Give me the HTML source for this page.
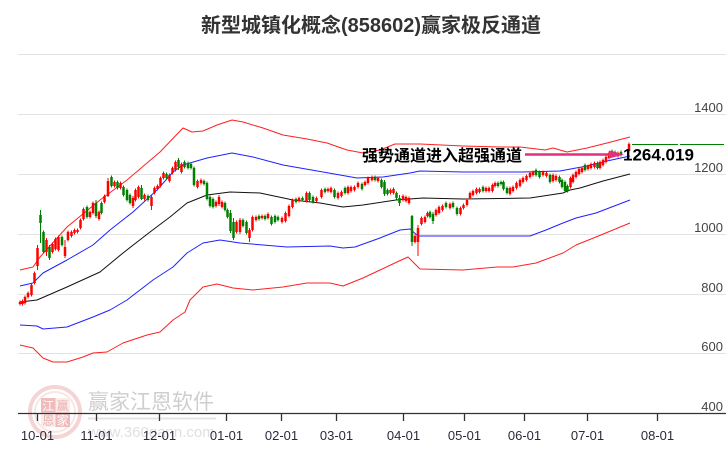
<!DOCTYPE html>
<html><head><meta charset="utf-8"><style>
html,body{margin:0;padding:0;background:#fff;}
svg{display:block;}
text{font-family:"Liberation Sans","Noto Sans CJK SC",sans-serif;}
</style></head><body>
<svg width="726" height="450" viewBox="0 0 726 450" xmlns="http://www.w3.org/2000/svg">
<rect width="726" height="450" fill="#fff"/>
<text x="371" y="32" text-anchor="middle" font-size="20" font-weight="bold" fill="#333">新型城镇化概念(858602)赢家极反通道</text>
<g stroke="#e3e3e3" stroke-width="1">
<line x1="18" y1="54.5" x2="726" y2="54.5"/>
<line x1="18" y1="114.5" x2="726" y2="114.5"/>
<line x1="18" y1="174.5" x2="726" y2="174.5"/>
<line x1="18" y1="234.5" x2="726" y2="234.5"/>
<line x1="18" y1="294.5" x2="726" y2="294.5"/>
<line x1="18" y1="353.5" x2="726" y2="353.5"/>
</g>
<g font-size="13" fill="#444" text-anchor="end">
<text x="723" y="112">1400</text>
<text x="723" y="172">1200</text>
<text x="723" y="232">1000</text>
<text x="723" y="292">800</text>
<text x="723" y="351">600</text>
<text x="723" y="411">400</text>
</g>
<g opacity="0.9">
<circle cx="55" cy="412" r="25" fill="none" stroke="#f3d0d0" stroke-width="4"/>
<circle cx="55" cy="412" r="20" fill="none" stroke="#f8e4e4" stroke-width="2"/>
<rect x="41" y="398" width="14.5" height="14.5" fill="#eeb4b4"/>
<rect x="55.5" y="398" width="14.5" height="14.5" fill="#fbeaea"/>
<rect x="41" y="412.5" width="14.5" height="14.5" fill="#fbeaea"/>
<rect x="55.5" y="412.5" width="14.5" height="14.5" fill="#eeb4b4"/>
<g font-size="12" text-anchor="middle">
<text x="48.2" y="410" fill="#fff">江</text>
<text x="62.8" y="410" fill="#e8a8a8">赢</text>
<text x="48.2" y="424.5" fill="#e8a8a8">恩</text>
<text x="62.8" y="424.5" fill="#fff">家</text>
</g>
<text x="88" y="409" font-size="21" fill="#c9c9c9">赢家江恩软件</text>
<line x1="88" y1="418.5" x2="216" y2="418.5" stroke="#e2e2e2" stroke-width="2"/>
<text x="88" y="437" font-size="15" fill="#dcdcdc">www.360gann.com</text>
</g>
<g fill="none" stroke-width="1" stroke-linejoin="round">
<polyline stroke="#ff2020" points="20,270 33,267 40,257 67,227 100,200 127,180 147,163 160,152 183,128 192,132 203,131 217,125 232,120 243,122 263,128 283,135 307,139 327,143 347,150 363,153 380,150 395,144 420,144 463,146 500,147 520,147 545,150 553,148 567,152 587,148 607,143 630,137"/>
<polyline stroke="#2020ff" points="20,286 33,283 43,273 67,260 93,245 110,230 133,212 157,190 173,172 183,165 207,158 232,153 253,157 283,165 323,172 357,178 383,177 410,173 420,171 463,172 523,172 560,171 576,168 587,166 607,161 630,156"/>
<polyline stroke="#111" points="20,302 37,300 67,287 100,272 123,253 150,232 170,217 187,203 207,195 230,192 260,193 293,200 320,203 343,207 363,205 396,200 423,198 463,199 530,198 563,193 570,190 580,188 603,181 630,174"/>
<polyline stroke="#2020ff" points="20,325 37,326 43,329 67,327 93,317 110,310 127,300 153,280 173,267 187,253 203,243 220,240 240,243 287,247 330,246 343,248 355,247 380,238 400,230 410,229 418,236 447,236 530,236 546,230 563,223 576,218 596,213 630,200"/>
<polyline stroke="#ff2020" points="20,345 33,348 43,358 53,362 67,362 83,357 93,353 107,352 123,343 147,335 160,332 173,320 185,312 190,300 203,287 217,284 233,288 253,290 283,287 307,283 330,283 343,286 363,278 380,270 397,262 408,257 413,262 420,269 463,270 497,267 513,267 536,263 563,253 576,245 596,237 630,223"/>
</g>
<!-- red wicks -->
<path fill="none" stroke="#f00" stroke-width="1" d="M20 300.5V305.5M22.5 299.5V305.5M25 295.5V304.5M28 291.5V298.5M31.5 283.5V296.5M34.5 271.5V284.5M37.5 245V270M46.5 238V256M52.5 242.5V253.5M55.5 237.5V250.5M58.5 235.5V251.5M65 240V258M68 230.5V241.5M71.5 230.5V237.5M74.5 228.5V234.5M77.5 228.5V233.5M80.5 218.5V229.5M83.5 207.5V220.5M90 210.5V218.5M93 201.5V214.5M99 210.5V220.5M104.5 194.5V203.5M108 178V197M114.5 180.5V187.5M120.5 181.5V189.5M133 196V208M135.5 188.5V201.5M138.5 185.5V198.5M144.5 193.5V200.5M151.5 195V210M154.5 186.5V194.5M157.5 184.5V190.5M160.5 176.5V187.5M163.5 171.5V179.5M169.5 173.5V182.5M172.5 166.5V174.5M175.5 160.5V171.5M181.5 162.5V173.5M197.5 179.5V188.5M201 178.5V184.5M216 200.5V207.5M219 195V206M222 200.5V208.5M236.5 220.5V233.5M240 218V234M249.5 228V242M252.5 215.5V231.5M256 215.5V221.5M262 214.5V219.5M268 212.5V219.5M282 216.5V223.5M285.5 211.5V222.5M289 204.5V217.5M292.5 198.5V208.5M299 196.5V202.5M306.5 191.5V202.5M316.5 196.5V202.5M321.5 188.5V198.5M328 187.5V192.5M331 186.5V193.5M338 191.5V199.5M341.5 190.5V197.5M348 185.5V194.5M351 185.5V192.5M354.5 185.5V191.5M358 181.5V188.5M365 180.5V186.5M368 176.5V184.5M372 175.5V181.5M378 176.5V182.5M390.5 188.5V194.5M393.5 187.5V194.5M403 194.5V201.5M406 195.5V202.5M409 196.5V204.5M415 234.5V243.5M418 225V256M421.5 216.5V225.5M425 215.5V223.5M427.5 211.5V217.5M436 208.5V216.5M439 205.5V214.5M442.5 204.5V211.5M450 202.5V209.5M460.5 206.5V215.5M463.5 203.5V209.5M467 198.5V206.5M470 191.5V199.5M473 189.5V196.5M476.5 187.5V194.5M479.5 187.5V193.5M486 186.5V192.5M489 186.5V192.5M492.5 183.5V192.5M495 181.5V187.5M510 186.5V195.5M513 185.5V192.5M516.5 181.5V189.5M520 178.5V187.5M523 176.5V183.5M526.5 174.5V181.5M530 171.5V178.5M533 170.5V176.5M543 170.5V176.5M546.5 171.5V177.5M553 173.5V182.5M556 174.5V181.5M570.5 176.5V188.5M573 173.5V183.5M576 170.5V178.5M579 167.5V175.5M582 166.5V173.5M588 164.5V170.5M591 162.5V169.5M594.5 161.5V168.5M600 160.5V169.5M603 158.5V166.5M606 155.5V163.5M609 151.5V159.5M618 151.5V157.5M629 142.5V152.5"/>
<!-- red bodies -->
<path fill="#f00" d="M18.75 302h2.5V304h-2.5zM21.25 301h2.5V304h-2.5zM23.75 297h2.5V303h-2.5zM26.75 293h2.5V297h-2.5zM30.25 285h2.5V295h-2.5zM33.25 273h2.5V283h-2.5zM36.25 248h2.5V266h-2.5zM45.25 240h2.5V252h-2.5zM51.25 244h2.5V252h-2.5zM54.25 239h2.5V249h-2.5zM57.25 237h2.5V250h-2.5zM63.75 247h2.5V256h-2.5zM66.75 232h2.5V240h-2.5zM70.25 232h2.5V236h-2.5zM73.25 230h2.5V233h-2.5zM76.25 230h2.5V232h-2.5zM79.25 220h2.5V228h-2.5zM82.25 209h2.5V219h-2.5zM88.75 212h2.5V217h-2.5zM91.75 203h2.5V213h-2.5zM97.75 212h2.5V219h-2.5zM103.25 196h2.5V202h-2.5zM106.75 181h2.5V196h-2.5zM113.25 182h2.5V186h-2.5zM119.25 183h2.5V188h-2.5zM131.75 198h2.5V206h-2.5zM134.25 190h2.5V200h-2.5zM137.25 187h2.5V197h-2.5zM143.25 195h2.5V199h-2.5zM150.25 197h2.5V206h-2.5zM153.25 188h2.5V193h-2.5zM156.25 186h2.5V189h-2.5zM159.25 178h2.5V186h-2.5zM162.25 173h2.5V178h-2.5zM168.25 175h2.5V181h-2.5zM171.25 168h2.5V173h-2.5zM174.25 162h2.5V170h-2.5zM180.25 164h2.5V172h-2.5zM196.25 181h2.5V187h-2.5zM199.75 180h2.5V183h-2.5zM214.75 202h2.5V206h-2.5zM217.75 197h2.5V204h-2.5zM220.75 202h2.5V207h-2.5zM235.25 222h2.5V232h-2.5zM238.75 220h2.5V232h-2.5zM248.25 230h2.5V238h-2.5zM251.25 217h2.5V230h-2.5zM254.75 217h2.5V220h-2.5zM260.75 216h2.5V218h-2.5zM266.75 214h2.5V218h-2.5zM280.75 218h2.5V222h-2.5zM284.25 213h2.5V221h-2.5zM287.75 206h2.5V216h-2.5zM291.25 200h2.5V207h-2.5zM297.75 198h2.5V201h-2.5zM305.25 193h2.5V201h-2.5zM315.25 198h2.5V201h-2.5zM320.25 190h2.5V197h-2.5zM326.75 189h2.5V191h-2.5zM329.75 188h2.5V192h-2.5zM336.75 193h2.5V198h-2.5zM340.25 192h2.5V196h-2.5zM346.75 187h2.5V193h-2.5zM349.75 187h2.5V191h-2.5zM353.25 187h2.5V190h-2.5zM356.75 183h2.5V187h-2.5zM363.75 182h2.5V185h-2.5zM366.75 178h2.5V183h-2.5zM370.75 177h2.5V180h-2.5zM376.75 178h2.5V181h-2.5zM389.25 190h2.5V193h-2.5zM392.25 189h2.5V193h-2.5zM401.75 196h2.5V200h-2.5zM404.75 197h2.5V201h-2.5zM407.75 198h2.5V203h-2.5zM413.75 236h2.5V242h-2.5zM416.75 228h2.5V242h-2.5zM420.25 218h2.5V224h-2.5zM423.75 217h2.5V222h-2.5zM426.25 213h2.5V216h-2.5zM434.75 210h2.5V215h-2.5zM437.75 207h2.5V213h-2.5zM441.25 206h2.5V210h-2.5zM448.75 204h2.5V208h-2.5zM459.25 208h2.5V214h-2.5zM462.25 205h2.5V208h-2.5zM465.75 200h2.5V205h-2.5zM468.75 193h2.5V198h-2.5zM471.75 191h2.5V195h-2.5zM475.25 189h2.5V193h-2.5zM478.25 189h2.5V192h-2.5zM484.75 188h2.5V191h-2.5zM487.75 188h2.5V191h-2.5zM491.25 185h2.5V191h-2.5zM493.75 183h2.5V186h-2.5zM508.75 188h2.5V194h-2.5zM511.75 187h2.5V191h-2.5zM515.25 183h2.5V188h-2.5zM518.75 180h2.5V186h-2.5zM521.75 178h2.5V182h-2.5zM525.25 176h2.5V180h-2.5zM528.75 173h2.5V177h-2.5zM531.75 172h2.5V175h-2.5zM541.75 172h2.5V175h-2.5zM545.25 173h2.5V176h-2.5zM551.75 175h2.5V181h-2.5zM554.75 176h2.5V180h-2.5zM569.25 178h2.5V187h-2.5zM571.75 175h2.5V182h-2.5zM574.75 172h2.5V177h-2.5zM577.75 169h2.5V174h-2.5zM580.75 168h2.5V172h-2.5zM586.75 166h2.5V169h-2.5zM589.75 164h2.5V168h-2.5zM593.25 163h2.5V167h-2.5zM598.75 162h2.5V168h-2.5zM601.75 160h2.5V165h-2.5zM604.75 157h2.5V162h-2.5zM607.75 153h2.5V158h-2.5zM616.75 153h2.5V156h-2.5zM627.75 144h2.5V151h-2.5z"/>
<!-- green wicks -->
<path fill="none" stroke="#008000" stroke-width="1" d="M40.5 210V243M43.5 230.5V253.5M49.5 245V260M62 235.5V246.5M87 205.5V218.5M96 200V218M101.5 201.5V214.5M111.5 175.5V187.5M117.5 180.5V189.5M123.5 185.5V196.5M127 188.5V201.5M130 193.5V204.5M141.5 185V200M148 194.5V201.5M166.5 172.5V179.5M178.5 158V170M184.5 160.5V168.5M188 161.5V169.5M191 162.5V169.5M194 166.5V186.5M204 179.5V185.5M207 181.5V200.5M210 195.5V207.5M213 197.5V208.5M225 201.5V211.5M227.5 208.5V218.5M230.5 210V233M233.5 218V240M243 218.5V227.5M246.5 220.5V234.5M259 214.5V220.5M265 214.5V220.5M271.5 215.5V225.5M275 214.5V223.5M278 215.5V221.5M296 197.5V203.5M302.5 196.5V201.5M309.5 191.5V201.5M313 195.5V203.5M325 187.5V193.5M334.5 188.5V198.5M345 186.5V194.5M362 182.5V190.5M375 175.5V181.5M381.5 178.5V188.5M384.5 180V196M387.5 188.5V195.5M396.5 191.5V199.5M399.5 195V206M412 215V246M430 210.5V218.5M433 212V224M446 201.5V208.5M453 201.5V208.5M457 206.5V215.5M483 185.5V192.5M498 181.5V187.5M501 180.5V185.5M503.5 180.5V190.5M507 186.5V194.5M536 168.5V176.5M539.5 170.5V178.5M550 173.5V183.5M559.5 175.5V183.5M562 178.5V188.5M565 180.5V192.5M567.5 184.5V192.5M585 163.5V171.5M597.5 161.5V169.5M612 149.5V156.5M615 150.5V156.5M621 150.5V156.5"/>
<!-- green bodies -->
<path fill="#008000" d="M39.25 215h2.5V223h-2.5zM42.25 232h2.5V252h-2.5zM48.25 247h2.5V258h-2.5zM60.75 237h2.5V245h-2.5zM85.75 207h2.5V217h-2.5zM94.75 203h2.5V216h-2.5zM100.25 203h2.5V213h-2.5zM110.25 177h2.5V186h-2.5zM116.25 182h2.5V188h-2.5zM122.25 187h2.5V195h-2.5zM125.75 190h2.5V200h-2.5zM128.75 195h2.5V203h-2.5zM140.25 188h2.5V199h-2.5zM146.75 196h2.5V200h-2.5zM165.25 174h2.5V178h-2.5zM177.25 160h2.5V167h-2.5zM183.25 162h2.5V167h-2.5zM186.75 163h2.5V168h-2.5zM189.75 164h2.5V168h-2.5zM192.75 168h2.5V185h-2.5zM202.75 181h2.5V184h-2.5zM205.75 183h2.5V199h-2.5zM208.75 197h2.5V206h-2.5zM211.75 199h2.5V207h-2.5zM223.75 203h2.5V210h-2.5zM226.25 210h2.5V217h-2.5zM229.25 213h2.5V231h-2.5zM232.25 222h2.5V238h-2.5zM241.75 220h2.5V226h-2.5zM245.25 222h2.5V233h-2.5zM257.75 216h2.5V219h-2.5zM263.75 216h2.5V219h-2.5zM270.25 217h2.5V224h-2.5zM273.75 216h2.5V222h-2.5zM276.75 217h2.5V220h-2.5zM294.75 199h2.5V202h-2.5zM301.25 198h2.5V200h-2.5zM308.25 193h2.5V200h-2.5zM311.75 197h2.5V202h-2.5zM323.75 189h2.5V192h-2.5zM333.25 190h2.5V197h-2.5zM343.75 188h2.5V193h-2.5zM360.75 184h2.5V189h-2.5zM373.75 177h2.5V180h-2.5zM380.25 180h2.5V187h-2.5zM383.25 182h2.5V194h-2.5zM386.25 190h2.5V194h-2.5zM395.25 193h2.5V198h-2.5zM398.25 198h2.5V203h-2.5zM410.75 216h2.5V242h-2.5zM428.75 212h2.5V217h-2.5zM431.75 214h2.5V221h-2.5zM444.75 203h2.5V207h-2.5zM451.75 203h2.5V207h-2.5zM455.75 208h2.5V214h-2.5zM481.75 187h2.5V191h-2.5zM496.75 183h2.5V186h-2.5zM499.75 182h2.5V184h-2.5zM502.25 182h2.5V189h-2.5zM505.75 188h2.5V193h-2.5zM534.75 170h2.5V175h-2.5zM538.25 172h2.5V177h-2.5zM548.75 175h2.5V182h-2.5zM558.25 177h2.5V182h-2.5zM560.75 180h2.5V187h-2.5zM563.75 182h2.5V191h-2.5zM566.25 186h2.5V191h-2.5zM583.75 165h2.5V170h-2.5zM596.25 163h2.5V168h-2.5zM610.75 151h2.5V155h-2.5zM613.75 152h2.5V155h-2.5zM619.75 152h2.5V155h-2.5z"/>
<line x1="18" y1="413.5" x2="726" y2="413.5" stroke="#333" stroke-width="1.3"/>
<g stroke="#333" stroke-width="1.3">
<line x1="37.5" y1="413" x2="37.5" y2="421"/>
<line x1="96.5" y1="413" x2="96.5" y2="421"/>
<line x1="159.5" y1="413" x2="159.5" y2="421"/>
<line x1="226.5" y1="413" x2="226.5" y2="421"/>
<line x1="281.5" y1="413" x2="281.5" y2="421"/>
<line x1="336.5" y1="413" x2="336.5" y2="421"/>
<line x1="403.5" y1="413" x2="403.5" y2="421"/>
<line x1="464.5" y1="413" x2="464.5" y2="421"/>
<line x1="524.5" y1="413" x2="524.5" y2="421"/>
<line x1="587.5" y1="413" x2="587.5" y2="421"/>
<line x1="657.5" y1="413" x2="657.5" y2="421"/>
</g>
<g font-size="13" fill="#2a2a3a" text-anchor="middle">
<text x="37.5" y="440">10-01</text>
<text x="96.5" y="440">11-01</text>
<text x="159.5" y="440">12-01</text>
<text x="226.5" y="440">01-01</text>
<text x="281.5" y="440">02-01</text>
<text x="336.5" y="440">03-01</text>
<text x="403.5" y="440">04-01</text>
<text x="464.5" y="440">05-01</text>
<text x="524.5" y="440">06-01</text>
<text x="587.5" y="440">07-01</text>
<text x="657.5" y="440">08-01</text>
</g>
<line x1="632" y1="144.5" x2="724" y2="144.5" stroke="#008000" stroke-width="1" stroke-dasharray="46 2"/>
<text x="362" y="161" font-size="16" font-weight="bold" fill="#000">强势通道进入超强通道</text>
<line x1="525" y1="154.5" x2="611" y2="154.5" stroke="#e2307c" stroke-width="2.6"/>
<polygon points="609,150.5 624,154.5 609,158.5" fill="#e2307c"/>
<text x="623" y="160.5" font-size="17" font-weight="bold" fill="#000">1264.019</text>
</svg>
</body></html>
